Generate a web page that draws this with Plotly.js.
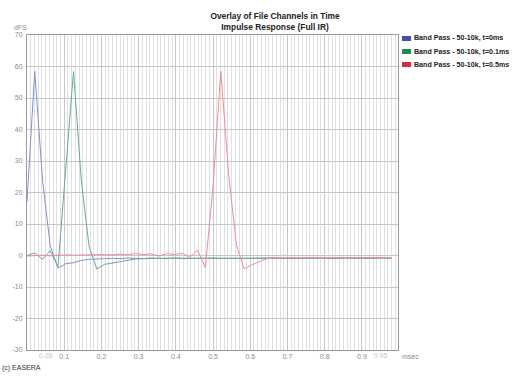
<!DOCTYPE html>
<html>
<head>
<meta charset="utf-8">
<script src="https://cdn.plot.ly/plotly-3.0.1.min.js"></script>
<style>html,body{margin:0;padding:0;background:#fff;}#chart{width:517px;height:380px;}</style>
</head>
<body>
<div id="chart"></div>
<script>
// time axis (msec), one sample every ~0.0208 ms
const timeMs = [0, 0.0208, 0.0417, 0.0625, 0.0833, 0.1042, 0.125, 0.1458, 0.1667, 0.1875,
  0.2083, 0.2292, 0.25, 0.2708, 0.2917, 0.3125, 0.3333, 0.3542, 0.375, 0.3958,
  0.4167, 0.4375, 0.4583, 0.4792, 0.5, 0.5208, 0.5417, 0.5625, 0.5833, 0.6042,
  0.625, 0.6458, 0.6667, 0.6875, 0.7083, 0.7292, 0.75, 0.7708, 0.7917, 0.8125,
  0.8333, 0.8542, 0.875, 0.8958, 0.9167, 0.9375, 0.9583, 0.9792];

const seriesNames = ["Band Pass - 50-10k, t=0ms", "Band Pass - 50-10k, t=0.1ms", "Band Pass - 50-10k, t=0.5ms"];

const blueVals = [17, 58.5, 24, 3, -4, -2.6, -2.3, -1.6, -1.2, -1.0,
  -1.0, -0.9, -1.0, -0.8, -0.9, -1.0, -0.8, -0.9, -1.0, -0.8,
  -0.9, -0.8, -0.9, -0.9, -0.8, -0.9, -0.9, -0.8, -0.9, -0.9,
  -0.8, -0.9, -0.8, -0.9, -0.8, -0.9, -0.8, -0.8, -0.9, -0.8,
  -0.9, -0.8, -0.8, -0.9, -0.8, -0.8, -0.9, -0.8];

const greenVals = [0, 0.8, -1.2, 1.5, -3.5, 27, 58.5, 24, 3, -4.3,
  -2.8, -2.4, -2.0, -1.4, -1.1, -1.0, -0.9, -1.0, -0.9, -0.8,
  -1.0, -0.9, -0.8, -0.9, -0.8, -0.9, -0.8, -0.9, -0.9, -0.8,
  -0.9, -0.8, -0.9, -0.8, -0.9, -0.9, -0.8, -0.9, -0.8, -0.9,
  -0.8, -0.9, -0.8, -0.9, -0.8, -0.9, -0.8, -0.9];

const redVals = [-0.2, 0, 0.1, -0.1, 0.1, 0.2, 0.1, 0.2, 0.3, 0.2,
  0.3, 0.2, 0.4, 0.3, 0.6, 0.3, 0.5, -0.2, 0.6, 0.3,
  0.7, -0.6, 1.7, -3.8, 22, 58.5, 26, 3.5, -4.2, -3,
  -2, -0.9, -0.7, -0.8, -0.6, -0.8, -0.7, -0.6, -0.8, -0.7,
  -0.6, -0.8, -0.7, -0.6, -0.7, -0.6, -0.7, -0.7];

const lineColors = ["#8590d0", "#66ad92", "#f08a9a"];
const swatchColors = ["#3a55a8", "#1f8a4c", "#d9283c"];

const xTickVals = [0.1, 0.2, 0.3, 0.4, 0.5, 0.6, 0.7, 0.8, 0.9];
const xTickText = ["0.1", "0.2", "0.3", "0.4", "0.5", "0.6", "0.7", "0.8", "0.9"];
const xMinorTickVals = [0.05, 0.95];
const xMinorTickText = ["0.05", "0.95"];
const yTickVals = [-30, -20, -10, 0, 10, 20, 30, 40, 50, 60, 70];
const yTickText = ["-30", "-20", "-10", "0", "10", "20", "30", "40", "50", "60", "70"];

const allVals = [blueVals, greenVals, redVals];

const traces = allVals.map((v, i) => ({
  type: "scatter", mode: "lines", x: timeMs, y: v, name: seriesNames[i],
  line: {color: lineColors[i], width: 1}, showlegend: false, hoverinfo: "skip"
}));
// carrier trace so the overlaid axis for the light minor labels is drawn
traces.push({type: "scatter", mode: "lines", x: [null], y: [null], xaxis: "x2", yaxis: "y",
  showlegend: false, hoverinfo: "skip"});

const W = 517, H = 380, L = 27, R = 119, T = 35, B = 30;
const pw = W - L - R, ph = H - T - B;
const px = (p) => (p - L) / pw;
const py = (p) => (H - B - p) / ph;

const shapes = [];
const annotations = [];
seriesNames.forEach((n, i) => {
  const cy = 38.5 + 13 * i;
  shapes.push({type: "rect", xref: "paper", yref: "paper",
    x0: px(402), x1: px(411), y0: py(cy + 2.5), y1: py(cy - 2.5),
    fillcolor: swatchColors[i], line: {width: 0}});
  annotations.push({xref: "paper", yref: "paper", x: px(412), y: py(cy),
    xanchor: "left", yanchor: "middle", showarrow: false, text: n,
    font: {family: "Liberation Sans, Arial, sans-serif", size: 7.1, color: "#222", weight: "bold"}});
});
annotations.push({xref: "paper", yref: "paper", x: px(12), y: py(27), xanchor: "left", yanchor: "middle",
  showarrow: false, text: "dFS", font: {family: "Liberation Sans, Arial, sans-serif", size: 7, color: "#888"}});
annotations.push({xref: "paper", yref: "paper", x: px(400), y: py(356), xanchor: "left", yanchor: "middle",
  showarrow: false, text: "msec", font: {family: "Liberation Sans, Arial, sans-serif", size: 7, color: "#888"}});
annotations.push({xref: "paper", yref: "paper", x: px(0), y: py(368), xanchor: "left", yanchor: "middle",
  showarrow: false, text: "(c) EASERA", font: {family: "Liberation Sans, Arial, sans-serif", size: 7, color: "#333"}});

const layout = {
  width: W, height: H,
  margin: {l: L, r: R, t: T, b: B, pad: 0},
  paper_bgcolor: "#fff", plot_bgcolor: "#fff",
  showlegend: false,
  title: {
    text: "Overlay of File Channels in Time<br>Impulse Response (Full IR)",
    x: 275 / W, xref: "container", xanchor: "center",
    y: 1 - 19 / H, yref: "container", yanchor: "top",
    font: {family: "Liberation Sans, Arial, sans-serif", size: 8.4, color: "#222", weight: "bold"}
  },
  xaxis: {
    range: [0, 0.997], tickmode: "array", tickvals: xTickVals, ticktext: xTickText,
    showgrid: true, gridcolor: "#c6c6c6", gridwidth: 1,
    minor: {tick0: 0, dtick: 0.01, showgrid: true, gridcolor: "#e0e0e0", gridwidth: 1, ticks: ""},
    zeroline: false, showline: true, linecolor: "#9a9a9a", linewidth: 1, mirror: true,
    ticks: "", tickfont: {family: "Liberation Sans, Arial, sans-serif", size: 7, color: "#888"},
    fixedrange: true
  },
  xaxis2: {
    overlaying: "x", anchor: "y", side: "bottom", range: [0, 0.997],
    tickmode: "array", tickvals: xMinorTickVals, ticktext: xMinorTickText,
    showgrid: false, zeroline: false, showline: false, ticks: "",
    tickfont: {family: "Liberation Sans, Arial, sans-serif", size: 7, color: "#c4c4c4"},
    fixedrange: true
  },
  yaxis: {
    range: [-30, 70], tickmode: "array", tickvals: yTickVals, ticktext: yTickText,
    showgrid: true, gridcolor: "#c6c6c6", gridwidth: 1, zeroline: false,
    showline: true, linecolor: "#9a9a9a", linewidth: 1, mirror: true,
    ticks: "", ticklabelstandoff: 2,
    tickfont: {family: "Liberation Sans, Arial, sans-serif", size: 7, color: "#888"},
    fixedrange: true
  },
  shapes: shapes,
  annotations: annotations
};

Plotly.newPlot("chart", traces, layout, {displayModeBar: false, staticPlot: true});
</script>
</body>
</html>
